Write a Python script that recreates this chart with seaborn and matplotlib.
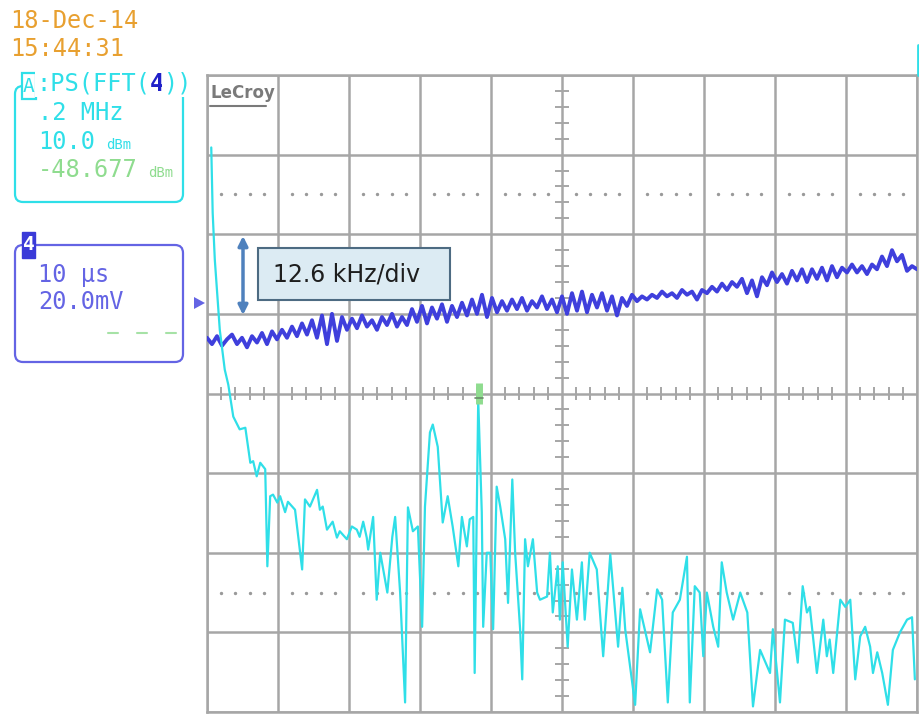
import numpy as np
import pandas as pd
import matplotlib.pyplot as plt
from matplotlib.patches import FancyBboxPatch, Rectangle, Polygon
import seaborn as sns

# FFT trace (math channel A): frequency position and level, in screen divisions
fft_freq = [0.06, 0.08, 0.11, 0.18, 0.25, 0.30, 0.37, 0.46, 0.54, 0.61, 0.65, 0.70, 0.75, 0.82,
            0.85, 0.89, 0.93, 0.99, 1.03, 1.10, 1.14, 1.24, 1.34, 1.38, 1.45, 1.55, 1.59, 1.63,
            1.69, 1.77, 1.83, 1.87, 1.97, 2.04, 2.11, 2.15, 2.20, 2.25, 2.27, 2.34, 2.39, 2.44,
            2.54, 2.61, 2.65, 2.72, 2.79, 2.83, 2.90, 2.97, 3.03, 3.07, 3.14, 3.18, 3.25, 3.32,
            3.39, 3.46, 3.54, 3.59, 3.66, 3.70, 3.75, 3.77, 3.82, 3.87, 3.89, 3.94, 3.99, 4.03,
            4.08, 4.13, 4.20, 4.24, 4.30, 4.34, 4.41, 4.44, 4.48, 4.52, 4.59, 4.65, 4.69, 4.79,
            4.83, 4.87, 4.94, 4.97, 5.01, 5.08, 5.14, 5.21, 5.28, 5.32, 5.39, 5.49, 5.58, 5.68,
            5.79, 5.85, 5.89, 6.03, 6.10, 6.24, 6.34, 6.41, 6.49, 6.56, 6.66, 6.76, 6.80, 6.87,
            6.94, 6.99, 7.04, 7.13, 7.20, 7.25, 7.32, 7.41, 7.51, 7.61, 7.69, 7.79, 7.93, 7.97,
            8.07, 8.14, 8.25, 8.32, 8.39, 8.45, 8.49, 8.59, 8.68, 8.73, 8.77, 8.82, 8.92, 8.99,
            9.06, 9.13, 9.20, 9.27, 9.34, 9.38, 9.44, 9.51, 9.59, 9.66, 9.76, 9.86, 9.93, 9.97]
fft_level = [3.09, 2.27, 1.68, 0.80, 0.30, 0.11, -0.29, -0.45, -0.43, -0.87, -0.85, -1.04, -0.87, -0.95,
             -2.17, -1.29, -1.27, -1.37, -1.29, -1.49, -1.36, -1.46, -2.21, -1.33, -1.42, -1.21, -1.46, -1.42,
             -1.71, -1.61, -1.81, -1.73, -1.83, -1.67, -1.71, -1.80, -1.61, -1.81, -1.96, -1.55, -2.59, -2.00,
             -2.50, -1.80, -1.55, -2.50, -3.88, -1.43, -1.73, -1.67, -2.93, -1.42, -0.49, -0.39, -0.67, -1.62,
             -1.29, -1.67, -2.17, -1.55, -1.92, -1.58, -1.55, -3.51, -0.08, -1.49, -2.93, -2.00, -2.00, -2.96,
             -1.17, -1.42, -1.83, -2.63, -1.08, -2.00, -2.96, -3.59, -1.83, -2.17, -1.83, -2.50, -2.59, -2.55,
             -2.00, -2.75, -2.17, -2.84, -2.12, -3.18, -2.21, -2.84, -2.12, -2.84, -2.00, -2.21, -3.30, -2.02,
             -3.18, -2.44, -2.96, -3.91, -2.71, -3.25, -2.46, -2.59, -3.88, -2.75, -2.59, -2.05, -3.88, -2.42,
             -2.50, -3.30, -2.50, -2.93, -3.18, -2.12, -2.50, -2.84, -2.50, -2.75, -3.93, -3.22, -3.51, -2.96,
             -3.88, -2.84, -2.88, -3.38, -2.42, -2.75, -2.68, -3.51, -2.84, -3.30, -3.09, -3.51, -2.59, -2.68,
             -2.59, -3.59, -3.05, -2.93, -3.18, -3.51, -3.25, -3.51, -3.91, -3.22, -3.00, -2.84, -2.81, -3.59]

# channel 4 time trace, in divisions (sampled across the full 10 div sweep)
ch4_level = [0.70, 0.62, 0.72, 0.60, 0.68, 0.74, 0.62, 0.70, 0.58, 0.72,
             0.64, 0.76, 0.62, 0.78, 0.68, 0.80, 0.70, 0.84, 0.72, 0.88,
             0.74, 0.92, 0.70, 0.98, 0.62, 1.00, 0.66, 0.96, 0.80, 0.94,
             0.82, 0.98, 0.84, 0.92, 0.80, 0.96, 0.86, 1.00, 0.84, 0.96,
             0.86, 1.06, 0.90, 1.10, 0.88, 1.08, 0.94, 1.12, 0.90, 1.10,
             0.96, 1.14, 0.98, 1.18, 1.00, 1.24, 0.96, 1.20, 1.02, 1.16,
             1.04, 1.18, 1.06, 1.20, 1.04, 1.16, 1.08, 1.22, 1.06, 1.18,
             1.02, 1.22, 1.00, 1.26, 1.04, 1.28, 1.02, 1.24, 1.08, 1.26,
             1.04, 1.22, 0.98, 1.20, 1.10, 1.24, 1.16, 1.22, 1.18, 1.24,
             1.20, 1.28, 1.22, 1.26, 1.20, 1.30, 1.24, 1.28, 1.18, 1.30,
             1.26, 1.34, 1.28, 1.38, 1.30, 1.40, 1.34, 1.44, 1.26, 1.42,
             1.22, 1.46, 1.36, 1.52, 1.40, 1.50, 1.38, 1.54, 1.42, 1.56,
             1.40, 1.56, 1.44, 1.58, 1.42, 1.60, 1.46, 1.58, 1.52, 1.62,
             1.52, 1.60, 1.50, 1.62, 1.56, 1.72, 1.60, 1.80, 1.66, 1.74,
             1.54, 1.60, 1.56]
ch4_time = np.linspace(0, 10, len(ch4_level))

# screen labels
date_label = "18-Dec-14"
time_label = "15:44:31"
fft_header = ["A", ":PS(FFT(", "4", "))"]
fft_lines = [".2 MHz", "10.0", "-48.677"]
ch4_lines = ["10 µs", "20.0mV"]
note_label = "12.6 kHz/div"

CYAN = "#2fdfe8"
BLUE = "#3f3fdc"
LBLUE = "#6464e4"
GREEN = "#8fdc8f"
ORANGE = "#e8a030"
GRID = "#a6a6a6"

sns.set_style("white")
plt.rcParams["font.family"] = ["DejaVu Sans Mono", "DejaVu Sans"]

W, H = 919, 714
fig = plt.figure(figsize=(W / 100, H / 100), dpi=100)

ax = fig.add_axes([207 / W, (H - 712) / H, 710 / W, 637 / H])
ax.set_xlim(0, 10)
ax.set_ylim(-4, 4)
ax.set_xticks(range(11))
ax.set_yticks(range(-4, 5))
ax.grid(True, color=GRID, lw=1.8)
ax.set_axisbelow(True)
ax.tick_params(length=0, labelbottom=False, labelleft=False)
for s in ax.spines.values():
    s.set_color(GRID)
    s.set_linewidth(1.8)

# graticule minor ticks on the centre axes and dotted lines
minor = [k * 0.2 for k in range(-24, 51) if k % 5]
xm = [v for v in minor if 0 < v < 10]
ym = [v for v in minor if -4 < v < 4]
ax.vlines(xm, -0.08, 0.08, color=GRID, lw=1.4, zorder=1)
ax.hlines(ym, 4.9, 5.1, color=GRID, lw=1.4, zorder=1)
ax.scatter(xm, [2.5] * len(xm), s=2, color="#9a9a9a", zorder=1)
ax.scatter(xm, [-2.5] * len(xm), s=2, color="#9a9a9a", zorder=1)

df4 = pd.DataFrame({"t": ch4_time, "v": ch4_level})
dfa = pd.DataFrame({"f": fft_freq, "v": fft_level})
sns.lineplot(data=df4, x="t", y="v", ax=ax, color=BLUE, lw=2.8, estimator=None, sort=False, zorder=3)
sns.lineplot(data=dfa, x="f", y="v", ax=ax, color=CYAN, lw=1.6, estimator=None, sort=False, zorder=4)
ax.set_xlabel("")
ax.set_ylabel("")

# overlay in pixel units for the screen annotations
ov = fig.add_axes([0, 0, 1, 1], zorder=5)
ov.set_xlim(0, W)
ov.set_ylim(H, 0)
ov.axis("off")
ov.patch.set_alpha(0)

mono = dict(family="DejaVu Sans Mono", fontsize=17, va="center", ha="left")
ov.text(10, 21, date_label, color=ORANGE, **mono)
ov.text(10, 49, time_label, color=ORANGE, **mono)

# FFT setup box
ov.add_patch(FancyBboxPatch((15, 86), 168, 116, boxstyle="round,pad=0,rounding_size=8",
                            fill=False, ec=CYAN, lw=1.6))
ov.add_patch(Rectangle((22, 73), 14, 26, fc="white", ec=CYAN, lw=1.6))
ov.text(29, 86, fft_header[0], color=CYAN, fontsize=14, ha="center", va="center", family="DejaVu Sans Mono")
cw = 0.6 * 17 * 100 / 72
bg = dict(fc="white", ec="none", pad=1)
ov.text(36, 84, fft_header[1], color=CYAN, bbox=bg, **mono)
ov.text(36 + 8 * cw, 84, fft_header[2], color="#2020c8", fontweight="bold", bbox=bg, **mono)
ov.text(36 + 9 * cw, 84, fft_header[3], color=CYAN, bbox=bg, **mono)
ov.text(38, 113, fft_lines[0], color=CYAN, **mono)
ov.text(38, 142, fft_lines[1], color=CYAN, **mono)
ov.text(106, 145, "dBm", color=CYAN, family="DejaVu Sans Mono", fontsize=10, va="center")
ov.text(38, 170, fft_lines[2], color=GREEN, **mono)
ov.text(148, 173, "dBm", color=GREEN, family="DejaVu Sans Mono", fontsize=10, va="center")

# channel 4 setup box
ov.add_patch(FancyBboxPatch((15, 245), 168, 117, boxstyle="round,pad=0,rounding_size=8",
                            fill=False, ec=LBLUE, lw=1.6))
ov.add_patch(Rectangle((22, 232), 13, 26, fc="#3a3ad8", ec="#3a3ad8", lw=1))
ov.text(28.5, 245, "4", color="white", fontsize=14, fontweight="bold", ha="center", va="center",
        family="DejaVu Sans Mono")
ov.text(38, 275, ch4_lines[0], color=LBLUE, **mono)
ov.text(38, 302, ch4_lines[1], color=LBLUE, **mono)
for x0 in (108, 137, 166):
    ov.plot([x0, x0 + 10], [333, 333], color="#a6e2a6", lw=1.5)
ov.add_patch(Polygon([(194, 297), (194, 309), (205, 303)], closed=True, fc=LBLUE, ec="none"))

# LeCroy logo
ov.text(210, 93, "LeCroy", color="#7a7a7a", fontsize=12, fontweight="bold", family="DejaVu Sans",
        va="center", ha="left")
ov.plot([210, 266], [106, 106], color="#7a7a7a", lw=1.5)

# trigger/cursor marker and edge fragment
ov.plot([479, 479], [383, 404], color=GREEN, lw=5, solid_capstyle="butt")
ov.plot([475, 483], [398, 398], color="#6a8a6a", lw=1.2)
ov.plot([918, 918], [45, 75], color=CYAN, lw=2)

# scale annotation
ov.add_patch(Rectangle((258, 248), 192, 52, fc="#dcebf3", ec="#4d6b82", lw=1.5))
ov.text(273, 274, note_label, color="#1e1e1e", fontsize=17, family="DejaVu Sans", va="center", ha="left")
ov.annotate("", xy=(243, 236), xytext=(243, 315),
            arrowprops=dict(arrowstyle="<|-|>", color="#4f81bd", lw=2.5, mutation_scale=14,
                            shrinkA=0, shrinkB=0))

fig.savefig("out.png", dpi=100)
